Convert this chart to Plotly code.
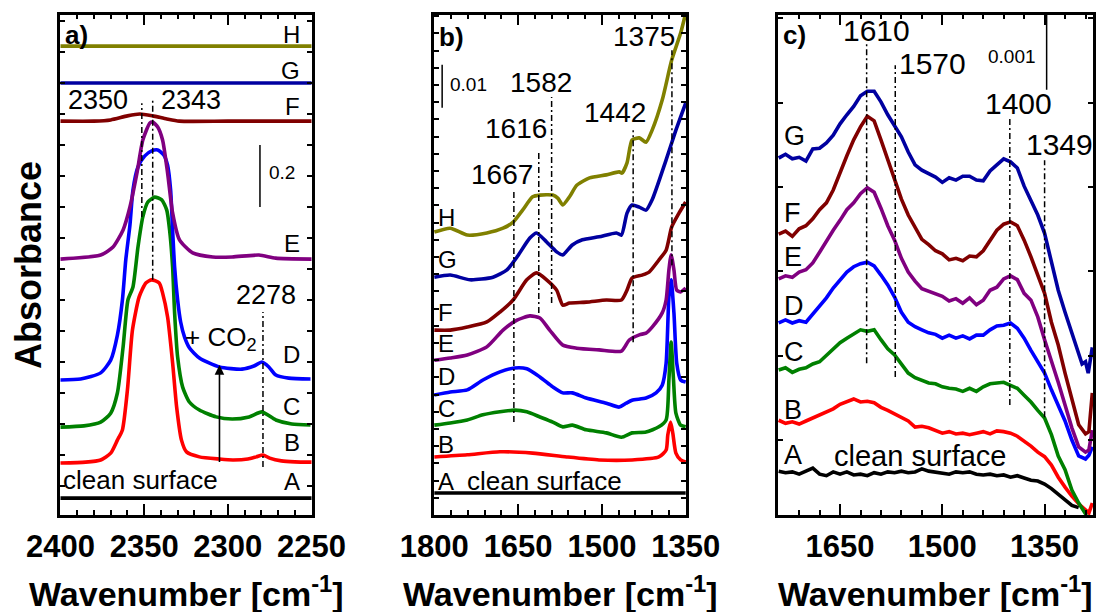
import plotly.graph_objects as go

FONT = "Liberation Sans, Arial, sans-serif"

# ---------------- Panel a : CO2 region (absorbance) ----------------
a_wn_A = [2400, 2250]
a_A = [0.061, 0.061]
a_wn_B = [2400, 2385, 2376, 2370, 2366, 2363, 2360, 2357, 2353, 2349, 2345.5, 2341, 2339, 2336, 2333,
          2330.6, 2327.7, 2324.7, 2317, 2305, 2297, 2288, 2283, 2279, 2275, 2268, 2260, 2250]
a_B = [0.174, 0.177, 0.184, 0.206, 0.248, 0.281, 0.410, 0.603, 0.710, 0.755, 0.765, 0.755, 0.723, 0.645, 0.497,
       0.355, 0.248, 0.210, 0.194, 0.187, 0.184, 0.187, 0.194, 0.200, 0.190, 0.181, 0.178, 0.177]
a_wn_C = [2400, 2386, 2376, 2370, 2366, 2362.6, 2359.7, 2356.7, 2353.7, 2350.8, 2347.8, 2343.7, 2339.5, 2336.5,
          2334.8, 2333, 2331.8, 2330, 2327, 2323, 2317, 2307, 2297.4, 2287.3, 2279.6, 2271.3, 2261.8, 2250.6]
a_C = [0.290, 0.294, 0.306, 0.335, 0.400, 0.548, 0.700, 0.742, 0.871, 0.968, 1.016, 1.032, 1.023, 0.990,
       0.926, 0.806, 0.658, 0.516, 0.419, 0.371, 0.345, 0.323, 0.316, 0.323, 0.339, 0.313, 0.300, 0.297]
a_wn_D = [2400, 2388, 2376, 2370, 2366, 2363, 2361, 2358.5, 2356.7, 2353.7, 2349.6, 2345.5, 2341.9, 2338.3,
          2336, 2334.2, 2333, 2331.8, 2330, 2328.2, 2325.9, 2322.9, 2317, 2305, 2291.5, 2284.4, 2279.6,
          2275.5, 2271.3, 2263.6, 2250.6]
a_D = [0.442, 0.445, 0.465, 0.506, 0.587, 0.700, 0.829, 0.942, 1.055, 1.129, 1.165, 1.181, 1.184, 1.168,
       1.135, 1.055, 0.926, 0.806, 0.700, 0.629, 0.581, 0.545, 0.513, 0.484, 0.477, 0.487, 0.500,
       0.484, 0.458, 0.448, 0.445]
a_wn_E = [2400, 2376, 2368.6, 2362.6, 2358.5, 2354.3, 2350.8, 2346.6, 2344.9, 2341.9, 2339, 2336, 2333,
          2328.9, 2321, 2309, 2297.4, 2281.4, 2271.4, 2250]
a_E = [0.832, 0.845, 0.871, 0.926, 1.000, 1.110, 1.216, 1.271, 1.274, 1.258, 1.216, 1.110, 0.981,
       0.894, 0.852, 0.839, 0.839, 0.845, 0.835, 0.832]
a_wn_F = [2400, 2380, 2370, 2360, 2352.6, 2345, 2336.5, 2329, 2300, 2250]
a_F = [1.277, 1.277, 1.281, 1.294, 1.300, 1.294, 1.284, 1.277, 1.277, 1.277]
a_wn_G = [2400, 2250]
a_G = [1.400, 1.400]
a_wn_H = [2400, 2250]
a_H = [1.519, 1.519]

# ---------------- Panel b : 1800-1350 cm-1 (mAbs) ----------------
b_wn_A = [1800, 1350]
b_A = [5.1, 5.1]
b_wn_B = [1800, 1741, 1682.5, 1624, 1563, 1505, 1446, 1398, 1385, 1382, 1377, 1373, 1367.5, 1359, 1350]
b_B = [13.5, 14.0, 14.7, 14.4, 13.5, 12.8, 12.8, 13.5, 15.1, 18.6, 21.6, 19.0, 14.4, 12.8, 12.3]
b_wn_C = [1800, 1771.5, 1741, 1713, 1682.5, 1656, 1634.5, 1611, 1588, 1570, 1553, 1528, 1492, 1465, 1446,
          1421, 1398, 1385, 1380, 1376, 1372, 1367.5, 1359, 1350]
b_C = [20.9, 21.4, 22.1, 23.3, 24.0, 24.4, 24.0, 22.8, 21.6, 20.5, 20.9, 19.8, 19.1, 18.1, 19.1,
       19.3, 20.5, 22.1, 31.4, 40.2, 32.0, 23.7, 20.9, 20.5]
b_wn_D = [1800, 1771.5, 1741, 1713, 1682.5, 1656, 1634.5, 1611, 1588, 1570, 1553, 1528, 1492, 1469, 1456.5,
          1446, 1421, 1403, 1392, 1385, 1380, 1376, 1371, 1366, 1359, 1350]
b_D = [27.9, 28.6, 29.1, 31.4, 33.3, 34.2, 34.0, 32.1, 29.8, 28.4, 28.4, 27.2, 26.0, 25.1, 26.0,
       26.7, 27.2, 28.4, 30.2, 35.3, 50.7, 54.7, 47.0, 35.3, 31.4, 30.9]
b_wn_E = [1800, 1771.5, 1741, 1706, 1677, 1652, 1629, 1611, 1593.5, 1570, 1545, 1505, 1465, 1451, 1433,
          1421, 1410, 1392, 1385, 1380, 1376, 1371, 1366, 1359, 1350]
b_E = [36.0, 36.5, 37.2, 39.1, 43.0, 45.3, 46.3, 45.8, 43.0, 39.5, 38.8, 38.4, 38.1, 40.7, 41.9,
       42.3, 43.7, 47.0, 50.0, 57.0, 60.5, 57.0, 52.3, 51.9, 52.8]
b_wn_F = [1800, 1771.5, 1741, 1706, 1682.5, 1659, 1634.5, 1617, 1599, 1581, 1570, 1558, 1528, 1492, 1465,
          1455, 1446, 1428, 1415.5, 1398, 1385, 1375, 1362, 1350]
b_F = [43.0, 43.0, 43.7, 44.9, 47.2, 50.0, 54.7, 56.3, 54.7, 52.3, 48.8, 49.3, 49.5, 50.0, 50.0,
       52.3, 55.1, 55.8, 56.5, 59.3, 61.6, 67.0, 70.2, 72.8]
b_wn_G = [1800, 1771.5, 1736, 1695, 1670, 1652, 1629, 1617, 1599, 1581, 1570, 1553, 1535, 1505, 1474,
          1465, 1455, 1446, 1433, 1421, 1410, 1385, 1367.5, 1350]
b_G = [55.3, 55.8, 54.7, 55.3, 57.0, 60.0, 64.4, 65.6, 63.5, 61.2, 60.5, 62.8, 64.0, 64.7, 65.6,
       65.1, 70.2, 72.1, 71.6, 70.9, 73.3, 82.6, 89.5, 95.8]
b_wn_H = [1800, 1771.5, 1741, 1706, 1677, 1659, 1642, 1624, 1611, 1588, 1579, 1570, 1558, 1545, 1522,
          1492, 1469, 1464, 1455, 1446, 1433, 1421, 1410, 1392, 1375, 1359, 1350]
b_H = [65.8, 66.7, 65.1, 65.6, 66.7, 68.1, 70.9, 74.0, 74.4, 74.4, 73.7, 72.1, 74.0, 76.7, 78.4,
       79.1, 79.8, 79.5, 81.9, 87.2, 87.7, 86.7, 89.5, 96.5, 105.8, 112.1, 116.7]

# ---------------- Panel c : 1740-1280 cm-1 (mAbs) ----------------
c_wn = [1740, 1730, 1720, 1710, 1700, 1690, 1680, 1670, 1660, 1650, 1640, 1630, 1620, 1610, 1600,
        1590, 1580, 1570, 1560, 1550, 1540, 1530, 1520, 1510, 1500, 1490, 1480, 1470, 1460, 1450,
        1440, 1430, 1420, 1410, 1400, 1390, 1380, 1370, 1360, 1350, 1340, 1330, 1320, 1310, 1300]
c_A = [0.59, 0.57, 0.58, 0.55, 0.59, 0.63, 0.55, 0.53, 0.58, 0.55, 0.58, 0.54, 0.55, 0.53, 0.57,
       0.55, 0.58, 0.57, 0.59, 0.57, 0.58, 0.62, 0.59, 0.58, 0.57, 0.55, 0.58, 0.57, 0.58, 0.55,
       0.54, 0.55, 0.53, 0.54, 0.51, 0.53, 0.50, 0.47, 0.46, 0.42, 0.36, 0.29, 0.21, 0.14, 0.11]
c_B = [1.26, 1.22, 1.24, 1.21, 1.25, 1.29, 1.32, 1.37, 1.41, 1.47, 1.51, 1.54, 1.50, 1.51, 1.49,
       1.43, 1.39, 1.34, 1.29, 1.25, 1.17, 1.18, 1.16, 1.13, 1.09, 1.11, 1.08, 1.09, 1.07, 1.09,
       1.11, 1.08, 1.12, 1.11, 1.09, 1.05, 0.99, 0.92, 0.84, 0.78, 0.67, 0.51, 0.38, 0.26, 0.16]
c_C = [1.92, 1.95, 1.89, 1.93, 1.95, 2.00, 2.03, 2.11, 2.20, 2.28, 2.34, 2.39, 2.45, 2.43, 2.45,
       2.32, 2.20, 2.12, 1.99, 1.88, 1.82, 1.79, 1.75, 1.74, 1.70, 1.68, 1.67, 1.64, 1.68, 1.64,
       1.70, 1.74, 1.75, 1.76, 1.72, 1.68, 1.59, 1.50, 1.39, 1.29, 1.07, 0.79, 0.61, 0.34, 0.17]
c_D = [2.54, 2.58, 2.54, 2.57, 2.55, 2.66, 2.76, 2.87, 3.00, 3.11, 3.21, 3.28, 3.32, 3.34, 3.29,
       3.17, 3.04, 2.88, 2.68, 2.55, 2.49, 2.45, 2.41, 2.39, 2.34, 2.38, 2.34, 2.37, 2.33, 2.38,
       2.38, 2.45, 2.50, 2.51, 2.54, 2.47, 2.34, 2.18, 2.03, 1.88, 1.66, 1.46, 1.25, 1.00, 0.79]
c_E = [3.12, 3.16, 3.14, 3.21, 3.24, 3.33, 3.47, 3.62, 3.76, 3.89, 4.03, 4.12, 4.24, 4.32, 4.26,
       4.05, 3.82, 3.63, 3.39, 3.21, 3.09, 2.99, 2.96, 2.92, 2.89, 2.83, 2.86, 2.80, 2.87, 2.78,
       2.84, 2.97, 3.01, 3.12, 3.16, 3.11, 2.93, 2.84, 2.62, 2.32, 2.05, 1.76, 1.46, 1.16, 0.91]
c_F = [3.71, 3.75, 3.68, 3.78, 3.82, 3.91, 4.03, 4.12, 4.29, 4.53, 4.74, 4.95, 5.12, 5.26, 5.20,
       4.95, 4.68, 4.42, 4.17, 3.96, 3.79, 3.64, 3.57, 3.49, 3.45, 3.37, 3.39, 3.36, 3.42, 3.41,
       3.49, 3.63, 3.76, 3.84, 3.87, 3.82, 3.63, 3.41, 3.17, 2.93, 2.55, 2.25, 1.88, 1.53, 1.20]
c_G = [4.71, 4.76, 4.70, 4.72, 4.67, 4.83, 4.84, 4.91, 5.01, 5.16, 5.28, 5.39, 5.53, 5.59, 5.59,
       5.45, 5.28, 5.13, 4.99, 4.79, 4.62, 4.55, 4.50, 4.46, 4.39, 4.45, 4.42, 4.47, 4.47, 4.42,
       4.41, 4.54, 4.62, 4.70, 4.66, 4.58, 4.34, 4.16, 3.96, 3.72, 3.34, 2.97, 2.68, 2.41, 2.12]
# low-wavenumber tails (beyond 1300 cm-1)
c_tail_wn_B = [1290, 1285, 1280]
c_tail_B = [0.07, 0.04, 0.17]
c_tail_wn_C = [1290, 1284]
c_tail_C = [0.03, -0.15]
c_tail_wn_D = [1290, 1285, 1280]
c_tail_D = [0.75, 0.80, 0.91]
c_tail_wn_E = [1290, 1285, 1280]
c_tail_E = [0.84, 0.87, 1.13]
c_tail_wn_F = [1290, 1285, 1280]
c_tail_F = [1.08, 1.11, 1.62]
c_tail_wn_G = [1295, 1290, 1286, 1280]
c_tail_G = [2.00, 2.03, 1.88, 2.22]

COLORS = {"A": "#000000", "B": "#FF0000", "C": "#008000", "D": "#0000FF",
          "E": "#800080", "F": "#800000", "G": "#0000A0", "H": "#808000"}

fig = go.Figure()


def add(xa, ya, x, y, key, shape="spline", smoothing=0.6):
    assert len(x) == len(y), (key, len(x), len(y))
    fig.add_trace(go.Scatter(x=x, y=y, mode="lines", xaxis=xa, yaxis=ya,
                             line=dict(color=COLORS[key], width=3.6, shape=shape, smoothing=smoothing),
                             showlegend=False, hoverinfo="skip"))


add("x", "y", a_wn_A, a_A, "A")
add("x", "y", a_wn_B, a_B, "B")
add("x", "y", a_wn_C, a_C, "C")
add("x", "y", a_wn_D, a_D, "D")
add("x", "y", a_wn_E, a_E, "E")
add("x", "y", a_wn_F, a_F, "F")
add("x", "y", a_wn_G, a_G, "G")
add("x", "y", a_wn_H, a_H, "H")

add("x2", "y2", b_wn_A, b_A, "A")
add("x2", "y2", b_wn_B, b_B, "B")
add("x2", "y2", b_wn_C, b_C, "C")
add("x2", "y2", b_wn_D, b_D, "D")
add("x2", "y2", b_wn_E, b_E, "E")
add("x2", "y2", b_wn_F, b_F, "F")
add("x2", "y2", b_wn_G, b_G, "G")
add("x2", "y2", b_wn_H, b_H, "H")

add("x3", "y3", c_wn, c_A, "A", shape="linear")
add("x3", "y3", c_wn + c_tail_wn_B, c_B + c_tail_B, "B", shape="linear")
add("x3", "y3", c_wn + c_tail_wn_C, c_C + c_tail_C, "C", shape="linear")
add("x3", "y3", c_wn + c_tail_wn_D, c_D + c_tail_D, "D", shape="linear")
add("x3", "y3", c_wn + c_tail_wn_E, c_E + c_tail_E, "E", shape="linear")
add("x3", "y3", c_wn + c_tail_wn_F, c_F + c_tail_F, "F", shape="linear")
add("x3", "y3", c_wn + c_tail_wn_G, c_G + c_tail_G, "G", shape="linear")

# ---------------- axes ----------------
ydom = [0.1585, 0.9763]


def xax(domain, rng, tick0, dtick, mtick):
    return dict(domain=domain, range=rng, tick0=tick0, dtick=dtick, tickmode="linear",
                automargin=False,
                showline=True, linecolor="black", linewidth=2.5, mirror="allticks",
                ticks="inside", ticklen=11, tickwidth=2, tickcolor="black",
                showgrid=False, zeroline=False, ticklabelstandoff=2,
                tickfont=dict(family=FONT, size=31, color="black", weight="bold"),
                minor=dict(ticks="inside", ticklen=5, tickwidth=2, tickcolor="black",
                           tick0=tick0, dtick=mtick, showgrid=False))


def yax(rng, tick0, dtick, anchor):
    return dict(domain=ydom, range=rng, anchor=anchor, showline=True, linecolor="black",
                automargin=False,
                linewidth=2.5, mirror="allticks", ticks="inside", ticklen=5, tickwidth=1.5,
                tickcolor="black", tick0=tick0, dtick=dtick, tickmode="linear",
                showticklabels=False, showgrid=False, zeroline=False)


fig.update_layout(
    width=1102, height=612, margin=dict(l=0, r=0, t=0, b=0, autoexpand=False),
    paper_bgcolor="white", plot_bgcolor="white",
    xaxis=dict(**xax([60 / 1102, 312 / 1102], [2400.3, 2249.7], 2250, 50, 10), anchor="y"),
    xaxis2=dict(**xax([434 / 1102, 686 / 1102], [1800.6, 1349.4], 1350, 150, 30), anchor="y2"),
    xaxis3=dict(**xax([778 / 1102, 1093 / 1102], [1741, 1279], 1350, 150, 30), anchor="y3"),
    yaxis=yax([0.0065, 1.621], 0, 0.1, "x"),
    yaxis2=yax([0, 116.4], 0, 4, "x2"),
    yaxis3=yax([0.013, 6.599], 1.0, 1.11, "x3"),
)

# ---------------- annotations ----------------
anns = []


def txt(xr, yr, x, y, text, size, bold=False, xanchor="center", yanchor="middle", angle=0):
    anns.append(dict(xref=xr, yref=yr, x=x, y=y, text=text, showarrow=False, xanchor=xanchor,
                     yanchor=yanchor, textangle=angle, borderpad=0,
                     font=dict(family=FONT, size=size, color="black", weight="bold" if bold else "normal")))


# panel a
txt("x", "y", 2398, 1.555, "a)", 26, bold=True, xanchor="left")
for lab, yy in zip("HGFEDCBA", [1.555, 1.439, 1.323, 0.881, 0.523, 0.355, 0.239, 0.116]):
    txt("x", "y", 2256.3, yy, lab, 24, xanchor="right")
txt("x", "y", 2377.5, 1.345, "2350", 27)
txt("x", "y", 2322.3, 1.345, "2343", 27)
txt("x", "y", 2277, 0.716, "2278", 27)
txt("x", "y", 2267.5, 1.110, "0.2", 19)
txt("x", "y", 2326, 0.577, "+ CO<sub>2</sub>", 26, xanchor="left")
txt("x", "y", 2352.3, 0.119, "clean surface", 26)
anns.append(dict(xref="x", yref="y", x=2305, y=0.490, ax=2305, ay=0.168, axref="x", ayref="y",
                 text=" ", font=dict(size=2), showarrow=True, arrowhead=2, arrowsize=1.2,
                 arrowwidth=1.6, arrowcolor="black"))

# panel b
txt("x2", "y2", 1793, 111.2, "b)", 26, bold=True, xanchor="left")
for lab, yy in zip("HGFEDCBA", [69.3, 59.5, 47.2, 39.8, 32.3, 24.7, 16.5, 7.9]):
    txt("x2", "y2", 1795, yy, lab, 24, xanchor="left")
txt("x2", "y2", 1424.4, 111.2, "1375", 28)
txt("x2", "y2", 1739.5, 100.2, "0.01", 19)
txt("x2", "y2", 1609.5, 100.5, "1582", 28)
txt("x2", "y2", 1654, 89.8, "1616", 28)
txt("x2", "y2", 1476, 93.7, "1442", 28)
txt("x2", "y2", 1679, 79.3, "1667", 28)
txt("x2", "y2", 1602.4, 7.9, "clean surface", 26)

# panel c
txt("x3", "y3", 1735.3, 6.33, "c)", 26, bold=True, xanchor="left")
for lab, yy in zip("GFEDCBA", [5.0, 3.99, 3.41, 2.76, 2.16, 1.39, 0.80]):
    txt("x3", "y3", 1733, yy, lab, 27, xanchor="left")
txt("x3", "y3", 1596, 6.39, "1610", 30)
txt("x3", "y3", 1514, 5.95, "1570", 30)
txt("x3", "y3", 1388, 5.43, "1400", 30)
txt("x3", "y3", 1328, 4.89, "1349", 30)
txt("x3", "y3", 1398, 6.04, "0.001", 19)
txt("x3", "y3", 1531.5, 0.79, "clean surface", 29)

# axis titles
for dom in ([60 / 1102, 312 / 1102], [434 / 1102, 686 / 1102], [778 / 1102, 1093 / 1102]):
    txt("paper", "paper", (dom[0] + dom[1]) / 2, 1 - 591 / 612, "Wavenumber [cm<sup>-1</sup>]", 34, bold=True)
txt("paper", "paper", 28 / 1102, 1 - 265 / 612, "Absorbance", 36, bold=True, angle=-90)

fig.update_layout(annotations=anns)

# ---------------- marker lines and scale bars ----------------
DASH = "6px,3px,2px,3px"
shapes = []


def vline(xr, yr, x, y0, y1, dash=DASH, width=1.5):
    shapes.append(dict(type="line", xref=xr, yref=yr, x0=x, x1=x, y0=y0, y1=y1,
                       line=dict(color="black", width=width, dash=dash)))


vline("x", "y", 2351.4, 0.968, 1.335)
vline("x", "y", 2344.9, 0.765, 1.345)
vline("x", "y", 2279, 0.161, 0.661)
vline("x", "y", 2280.8, 1.0, 1.2, dash="solid")

vline("x2", "y2", 1657.6, 21.6, 75.6)
vline("x2", "y2", 1613, 47.0, 84.9)
vline("x2", "y2", 1590, 49.3, 97.2)
vline("x2", "y2", 1444, 40.2, 89.5)
vline("x2", "y2", 1374.6, 58.1, 108.1)
vline("x2", "y2", 1786, 94.7, 104.7, dash="solid")

vline("x3", "y3", 1611, 2.01, 6.22)
vline("x3", "y3", 1569, 1.83, 5.93)
vline("x3", "y3", 1401, 1.46, 5.24)
vline("x3", "y3", 1350, 1.30, 4.68)
vline("x3", "y3", 1347, 5.61, 6.61, dash="solid")

fig.update_layout(shapes=shapes)

fig.write_html("out.html")
